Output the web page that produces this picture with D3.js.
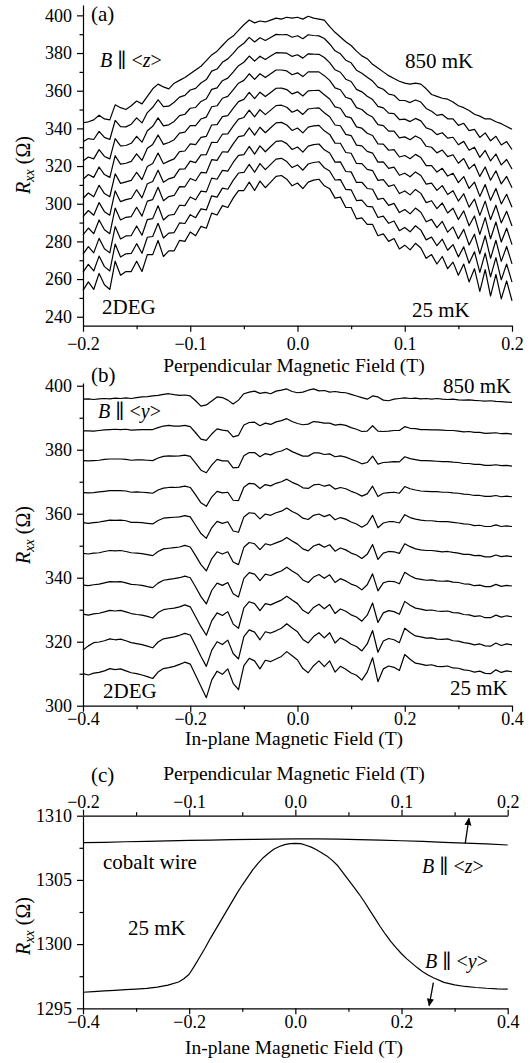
<!DOCTYPE html>
<html><head><meta charset="utf-8">
<script src="https://cdn.jsdelivr.net/npm/d3@7"></script>
<style>
body{margin:0;background:#fff}
svg{display:block}
svg text{font-family:'Liberation Serif','DejaVu Serif','Noto Serif',Times,serif !important;fill:#000}
</style></head>
<body><svg id="chart" width="532" height="1063"></svg>
<script>
// ---------- Panel (a): perpendicular field, 10 temperatures (850 mK top ... 25 mK bottom)
const fieldA = [-0.2,-0.195,-0.19,-0.185,-0.18,-0.175,-0.17,-0.165,-0.16,-0.155,-0.15,-0.145,-0.14,-0.135,-0.13,-0.125,-0.12,-0.115,-0.11,-0.105,-0.1,-0.095,-0.09,-0.085,-0.08,-0.075,-0.07,-0.065,-0.06,-0.055,-0.05,-0.045,-0.04,-0.035,-0.03,-0.025,-0.02,-0.015,-0.01,-0.005,0,0.005,0.01,0.015,0.02,0.025,0.03,0.035,0.04,0.045,0.05,0.055,0.06,0.065,0.07,0.075,0.08,0.085,0.09,0.095,0.1,0.105,0.11,0.115,0.12,0.125,0.13,0.135,0.14,0.145,0.15,0.155,0.16,0.165,0.17,0.175,0.18,0.185,0.19,0.195,0.2];
const rA0 = [343,343.5,344.5,347,345,344.5,352.5,351,350,352,354.5,353,357,361,363.5,362,361,364,365.5,367,369,371,373,376,379,381,384,387,389,392,395,397.5,396,397,396.5,397.5,398.5,398,399,398.5,399,398,399.5,398.5,398,397.5,394,391,388.5,386,384,381,378.5,377,374,372,370,368,366.5,365,364,363.5,364,363.5,361,358,357,356,355.5,354,352,351,349.5,347.5,346.5,345,345,343.5,342.5,341,339.5];
const rA1 = [332.9,334.6,334.1,338.4,335.2,334.1,344.2,340.9,340.8,342.2,345.6,342.9,348.4,351.2,355.2,351.6,351.8,353.9,356.6,357.5,360.4,361.2,364.1,365.9,370.4,371.5,375.1,376.9,379.8,383.1,385.2,388.3,385.9,388.1,386.7,388.3,389.9,389.7,389.8,388.4,389.2,387.6,389.7,389.3,389.1,387.7,384.8,381.2,379.6,376.2,374.8,370.9,369.3,367.2,365.1,361.9,360.8,358.2,357.6,354.9,354.8,353.7,355.1,354,350.6,349.1,346.9,347.4,345.1,345.1,341.6,342.7,338.8,339.5,335.2,337.6,333.4,335.8,331.2,333,328.8];
const rA2 = [322.7,324.8,323.8,328.7,325.1,323.8,334.6,330.7,330.9,332.1,335.8,332.7,338.7,341.1,345.6,341.3,341.9,343.7,346.8,347.5,350.7,351.1,354.3,355.7,360.7,361.5,365.3,366.7,369.9,373.3,375.1,378.4,375.7,378.3,376.6,378.4,380.2,380.1,379.9,378.2,379.1,377.3,379.6,379.4,379.3,377.6,374.9,371.1,369.8,366.1,364.9,360.7,359.4,357.1,355.3,351.7,350.9,348.1,347.8,344.7,344.9,343.6,345.3,344,340.3,339.3,336.7,337.7,334.8,335.3,331.3,333.1,328.4,330,324.6,328.3,322.7,326.4,320.6,323.5,318.4];
const rA3 = [313,315.5,314,319.5,315.5,314,325.5,321,321.5,322.5,326.5,323,329.5,331.5,336.5,331.5,332.5,334,337.5,338,341.5,341.5,345,346,351.5,352,356,357,360.5,364,365.5,369,366,369,367,369,371,371,370.5,368.5,369.5,367.5,370,370,370,368,365.5,361.5,360.5,356.5,355.5,351,350,347.5,346,342,341.5,338.5,338.5,335,335.5,334,336,334.5,330.5,330,327,328.5,325,326,321.5,324,318.5,321,314.5,319.5,312.5,317.5,310.5,314.5,308.5];
const rA4 = [302.8,305.7,303.7,309.8,305.4,303.7,315.9,310.8,311.6,312.4,316.7,312.8,319.8,321.4,326.9,321.2,322.6,323.8,327.7,328,331.8,331.4,335.2,335.8,341.8,342,346.2,346.8,350.6,354.2,355.4,359.1,355.8,359.2,356.9,359.1,361.3,361.4,360.6,358.3,359.4,357.2,359.9,360.1,360.2,357.9,355.6,351.4,350.7,346.4,345.6,340.8,340.1,337.4,336.2,331.8,331.6,328.4,328.7,324.8,325.6,323.9,326.2,324.5,320.2,320.2,316.8,318.8,314.7,316.2,311.2,314.4,308.1,311.5,303.9,310.2,301.8,308.1,299.9,305,298.1];
const rA5 = [293.1,296.4,293.9,300.6,295.8,293.9,306.8,301.1,302.2,302.8,307.4,303.1,310.6,311.8,317.8,311.4,313.2,314.1,318.4,318.5,322.6,321.8,325.9,326.1,332.6,332.5,336.9,337.1,341.2,344.9,345.8,349.7,346.1,349.9,347.3,349.7,352.1,352.3,351.2,348.6,349.8,347.4,350.3,350.7,350.9,348.3,346.2,341.8,341.4,336.8,336.2,331.1,330.7,327.8,326.9,322.1,322.2,318.8,319.4,315.1,316.2,314.3,316.9,315,310.4,310.9,307.1,309.6,304.9,306.9,301.4,305.3,298.2,302.5,293.8,301.4,291.6,299.2,289.8,296,288.2];
const rA6 = [283.4,287.1,284.1,291.4,286.2,284.1,297.7,291.4,292.8,293.2,298.1,293.4,301.4,302.2,308.7,301.6,303.8,304.4,309.1,309,313.4,312.2,316.6,316.4,323.4,323,327.6,327.4,331.8,335.6,336.2,340.3,336.4,340.6,337.7,340.3,342.9,343.2,341.8,338.9,340.2,337.6,340.7,341.3,341.6,338.7,336.8,332.2,332.1,327.2,326.8,321.4,321.3,318.2,317.6,312.4,312.8,309.2,310.1,305.4,306.8,304.7,307.6,305.5,300.6,301.6,297.4,300.4,295.1,297.6,291.6,296.2,288.3,293.5,283.7,292.6,281.4,290.3,279.7,287,278.3];
const rA7 = [273.3,277.2,273.9,281.6,276.1,273.9,287.9,281.3,282.9,283.1,288.2,283.3,291.6,292.1,298.9,291.4,293.9,294.3,299.2,299,303.6,302.1,306.7,306.3,313.6,313,317.7,317.3,321.9,325.7,326.1,330.4,326.3,330.7,327.6,330.4,333.1,333.4,331.9,328.8,330.1,327.4,330.6,331.4,331.7,328.6,326.9,322.1,322.2,317.1,316.9,311.3,311.4,308.1,307.7,302.3,302.9,299.1,300.2,295.3,296.9,294.6,297.7,295.5,290.4,291.7,287.3,290.6,284.9,287.7,281.4,286.4,278.1,283.8,273.4,283,271,280.6,269.4,277.3,268.1];
const rA8 = [263.7,267.8,264.3,272.2,266.6,264.3,278.6,271.7,273.4,273.6,278.8,273.7,282.2,282.6,289.6,281.8,284.4,284.7,289.8,289.5,294.2,292.6,297.3,296.7,304.2,303.5,308.3,307.7,312.4,316.3,316.6,320.9,316.7,321.3,318.1,320.9,323.7,324.1,322.4,319.2,320.6,317.8,321.1,321.9,322.3,319.1,317.4,312.6,312.8,307.6,307.4,301.7,301.9,298.6,298.3,292.7,293.4,289.6,290.8,285.7,287.4,285.1,288.3,286,280.8,282.3,277.7,281.2,275.3,278.3,271.8,277.1,268.4,274.5,263.6,273.8,261.2,271.4,259.6,268,258.4];
const rA9 = [254,258.5,254.5,263,257,254.5,269.5,262,264,264,269.5,264,273,273,280.5,272,275,275,280.5,280,285,283,288,287,295,294,299,298,303,307,307,311.5,307,312,308.5,311.5,314.5,315,313,309.5,311,308,311.5,312.5,313,309.5,308,303,303.5,298,298,292,292.5,289,289,283,284,280,281.5,276,278,275.5,279,276.5,271,273,268,272,265.5,269,262,268,258.5,265.5,253.5,265,251,262.5,249.5,259,248.5];

// ---------- Panel (b): in-plane field, 10 temperatures (850 mK top ... 25 mK bottom)
const fieldB = [-0.4,-0.39,-0.38,-0.37,-0.36,-0.35,-0.34,-0.33,-0.32,-0.31,-0.3,-0.29,-0.28,-0.27,-0.26,-0.25,-0.24,-0.23,-0.22,-0.21,-0.2,-0.19,-0.18,-0.17,-0.16,-0.15,-0.14,-0.13,-0.12,-0.11,-0.1,-0.09,-0.08,-0.07,-0.06,-0.05,-0.04,-0.03,-0.02,-0.01,0,0.01,0.02,0.03,0.04,0.05,0.06,0.07,0.08,0.09,0.1,0.11,0.12,0.13,0.14,0.15,0.16,0.17,0.18,0.19,0.2,0.21,0.22,0.23,0.24,0.25,0.26,0.27,0.28,0.29,0.3,0.31,0.32,0.33,0.34,0.35,0.36,0.37,0.38,0.39,0.4];
const rB0 = [395.8,395.9,395.7,395.9,396.0,395.9,396.1,396.0,396.2,396.0,396.3,396.5,396.6,396.8,397.0,397.3,397.5,397.2,397.0,397.1,396.8,395.3,393.6,394.0,395.2,396.5,396.3,395.5,394.3,395.5,397.5,398.0,398.3,397.6,397.9,397.5,398.3,398.6,399.0,398.2,397.8,398.0,398.6,399.0,398.4,398.5,398.0,398.2,397.9,397.8,397.3,396.8,396.3,395.8,396.8,396.5,395.5,395.3,395.8,396.0,396.2,396.0,396.1,395.9,396.0,395.8,396.0,395.8,395.7,395.8,395.6,395.5,395.6,395.4,395.3,395.2,395.3,395.1,395.0,394.9,394.8];
const rB1 = [385.9,385.9,385.8,386.0,386.2,386.3,386.4,386.3,386.4,386.1,386.2,386.3,386.3,386.3,386.9,387.4,387.6,387.4,387.4,387.6,387.2,385.3,383.3,382.9,384.9,386.5,386.1,385.9,384.0,384.5,387.7,388.5,388.6,387.5,388.3,387.9,388.7,389.1,389.7,388.8,388.2,387.8,388.0,388.8,388.6,388.3,388.3,387.7,387.9,387.6,386.9,386.4,385.7,385.8,387.5,385.8,385.7,385.8,386.0,386.0,387.2,386.7,386.6,386.3,386.3,386.2,386.2,386.1,386.0,386.0,385.8,385.6,385.7,385.4,385.4,385.1,385.2,385.3,385.0,385.1,384.9];
const rB2 = [376.6,376.5,376.6,376.7,377.0,377.1,377.1,377.1,377.0,376.7,376.8,376.8,376.7,376.6,377.4,377.9,378.1,378.0,378.1,378.3,377.9,375.8,373.6,372.8,375.2,377.0,376.5,376.5,374.3,374.5,378.1,379.1,379.1,377.8,378.8,378.4,379.2,379.6,380.4,379.4,378.7,378.0,378.0,379.0,379.0,378.5,378.7,377.8,378.1,377.7,377.0,376.4,375.6,376.0,378.0,375.5,376.0,376.1,376.3,376.2,377.8,377.2,376.9,376.6,376.6,376.5,376.4,376.3,376.3,376.1,376.0,375.7,375.7,375.4,375.4,375.1,375.1,375.3,375.0,375.1,374.9];
const rB3 = [366.6,366.5,366.6,366.8,367.0,367.2,367.2,367.2,367.1,366.7,366.8,366.7,366.6,366.4,367.4,368.0,368.2,368.2,368.3,368.6,368.2,365.9,363.4,362.3,365.2,367.0,366.5,366.7,364.2,364.1,368.3,369.5,369.3,367.9,369.1,368.7,369.5,370.0,370.8,369.8,369.1,368.1,367.9,369.0,369.2,368.6,369.0,367.7,368.2,367.8,367.0,366.4,365.5,366.2,368.6,365.4,366.4,366.6,366.7,366.4,368.5,367.8,367.4,367.1,367.0,366.9,366.9,366.7,366.7,366.5,366.4,366.1,366.0,365.7,365.7,365.4,365.4,365.7,365.3,365.5,365.3];
const rB4 = [357.2,357.0,357.2,357.4,357.7,358.0,357.9,358.0,357.8,357.3,357.3,357.2,357.0,356.8,357.9,358.6,358.8,358.9,359.0,359.4,359.0,356.4,353.8,352.3,355.6,357.6,357.0,357.5,354.6,354.2,359.0,360.3,360.1,358.4,359.9,359.5,360.3,360.8,361.8,360.7,359.9,358.6,358.2,359.5,359.9,359.1,359.7,358.1,358.8,358.3,357.4,356.8,355.8,356.8,359.5,355.6,357.1,357.5,357.5,357.1,359.7,358.8,358.3,358.0,357.8,357.8,357.6,357.5,357.5,357.3,357.1,356.8,356.7,356.3,356.4,356.0,356.0,356.5,356.0,356.2,356.0];
const rB5 = [347.6,347.4,347.7,347.8,348.2,348.5,348.4,348.5,348.2,347.8,347.7,347.5,347.2,346.9,348.2,349.0,349.2,349.4,349.6,350.1,349.6,346.9,344.1,342.1,345.9,348.1,347.4,348.1,344.9,344.1,349.5,351.0,350.6,348.8,350.6,350.2,350.9,351.5,352.6,351.5,350.5,349.0,348.4,349.9,350.5,349.5,350.3,348.3,349.3,348.7,347.7,347.1,346.0,347.3,350.4,345.7,347.7,348.2,348.1,347.6,350.6,349.7,349.0,348.7,348.5,348.5,348.3,348.1,348.2,347.9,347.7,347.3,347.3,346.9,347.0,346.5,346.5,347.1,346.6,346.8,346.6];
const rB6 = [337.7,337.5,337.8,338.0,338.4,338.8,338.7,338.8,338.4,337.9,337.8,337.6,337.2,336.9,338.3,339.2,339.5,339.7,340.0,340.5,340.0,337.1,334.1,331.8,336.0,338.3,337.6,338.5,335.0,334.0,339.8,341.6,341.1,339.1,341.1,340.7,341.5,342.1,343.3,342.1,341.1,339.3,338.5,340.2,341.0,339.8,340.9,338.5,339.7,339.0,338.0,337.4,336.2,337.8,341.2,335.9,338.4,338.9,338.8,338.1,341.7,340.6,339.8,339.5,339.2,339.3,339.0,338.9,339.0,338.6,338.5,338.1,338.0,337.5,337.7,337.2,337.2,337.9,337.3,337.6,337.4];
const rB7 = [328.6,328.3,328.7,328.9,329.3,329.8,329.6,329.8,329.3,328.8,328.5,328.3,327.9,327.4,329.1,330.0,330.3,330.5,330.9,331.5,330.9,327.8,324.7,322.0,326.5,329.0,328.2,329.4,325.5,324.2,330.6,332.5,331.9,329.7,331.9,331.5,332.3,333.0,334.2,333.0,331.9,329.8,328.8,330.7,331.7,330.3,331.6,328.8,330.2,329.5,328.4,327.7,326.4,328.3,332.1,326.0,329.0,329.7,329.4,328.6,332.6,331.4,330.5,330.2,329.8,329.9,329.6,329.5,329.6,329.1,329.0,328.5,328.4,327.9,328.1,327.5,327.5,328.3,327.7,328.1,327.8];
const rB8 = [317.4,318.7,319.7,319.9,320.3,320.9,320.6,320.8,320.3,319.7,319.4,319.1,318.6,318.1,319.9,320.9,321.2,321.5,322.0,322.6,322.1,318.8,315.4,312.3,317.3,320.0,319.1,320.5,316.3,314.6,321.6,323.7,323.0,320.6,323.1,322.7,323.4,324.2,325.6,324.3,323.1,320.7,319.6,321.6,322.8,321.2,322.8,319.6,321.2,320.4,319.2,318.5,317.1,319.3,323.5,316.7,320.2,321.0,320.6,319.7,324.2,322.9,321.8,321.5,321.1,321.2,320.8,320.7,320.9,320.3,320.2,319.7,319.5,319.0,319.3,318.7,318.6,319.6,318.8,319.3,319.0];
const rB9 = [310.0,309.6,310.2,310.4,310.9,311.6,311.3,311.5,310.9,310.3,310.0,309.6,309.1,308.5,310.5,311.6,311.9,312.3,312.9,313.6,313.0,309.5,306.0,302.5,308.0,310.8,309.8,311.5,307.0,305.0,312.5,314.8,314.0,311.5,314.2,313.8,314.6,315.4,316.9,315.6,314.3,311.6,310.3,312.5,314.0,312.2,314.0,310.5,312.3,311.4,310.2,309.5,308.0,310.5,315.0,307.5,311.5,312.4,312.0,311.0,316.0,314.5,313.3,313.0,312.6,312.8,312.3,312.2,312.4,311.8,311.7,311.2,311.0,310.5,310.8,310.1,310.0,311.2,310.4,310.9,310.6];

// ---------- Panel (c): cobalt wire at 25 mK
const fieldCy = [-0.4,-0.38,-0.36,-0.34,-0.32,-0.3,-0.28,-0.26,-0.24,-0.22,-0.21,-0.2,-0.19,-0.18,-0.17,-0.16,-0.15,-0.14,-0.13,-0.12,-0.11,-0.1,-0.09,-0.08,-0.07,-0.06,-0.05,-0.04,-0.03,-0.02,-0.01,0,0.01,0.02,0.03,0.04,0.05,0.06,0.07,0.08,0.09,0.1,0.11,0.12,0.13,0.14,0.15,0.16,0.17,0.18,0.19,0.2,0.21,0.22,0.23,0.24,0.25,0.26,0.28,0.3,0.32,0.34,0.36,0.38,0.4];
const rCy = [1296.25,1296.3,1296.35,1296.4,1296.45,1296.5,1296.55,1296.65,1296.8,1297.05,1297.3,1297.65,1298.3,1299.0,1299.7,1300.45,1301.15,1301.85,1302.55,1303.25,1303.95,1304.6,1305.2,1305.8,1306.3,1306.75,1307.1,1307.4,1307.6,1307.75,1307.82,1307.85,1307.82,1307.7,1307.55,1307.35,1307.1,1306.85,1306.5,1306.1,1305.55,1305.0,1304.45,1303.9,1303.3,1302.65,1302.0,1301.35,1300.75,1300.2,1299.7,1299.25,1298.85,1298.5,1298.15,1297.85,1297.6,1297.38,1297.02,1296.82,1296.7,1296.62,1296.56,1296.52,1296.5];
const fieldCz = [-0.2,-0.18,-0.16,-0.14,-0.12,-0.1,-0.08,-0.06,-0.04,-0.02,0,0.02,0.04,0.06,0.08,0.1,0.12,0.14,0.16,0.18,0.2];
const rCz = [1307.9,1307.93,1307.97,1308.0,1308.04,1308.08,1308.1,1308.13,1308.16,1308.18,1308.2,1308.19,1308.17,1308.14,1308.1,1308.05,1308.0,1307.93,1307.86,1307.8,1307.72];
const arrowZ = [[0.160,1307.85],[0.1635,1309.8]];
const arrowY = [[0.260,1297.0],[0.252,1295.2]];

// ---------- ticks
const aYticks=[240,260,280,300,320,340,360,380,400], aYminor=[250,270,290,310,330,350,370,390];
const aXticks=[-0.2,-0.1,0,0.1,0.2], aXminor=[-0.15,-0.05,0.05,0.15];
const bYticks=[300,320,340,360,380,400], bYminor=[310,330,350,370,390];
const bXticks=[-0.4,-0.2,0,0.2,0.4], bXminor=[-0.3,-0.1,0.1,0.3];
const cYticks=[1295,1300,1305,1310], cYminor=[1297.5,1302.5,1307.5];
const cXticks=[-0.4,-0.2,0,0.2,0.4], cXminor=[-0.3,-0.1,0.1,0.3];
const cTticks=[-0.2,-0.1,0,0.1,0.2], cTminor=[-0.15,-0.05,0.05,0.15];

const seriesA=[rA0,rA1,rA2,rA3,rA4,rA5,rA6,rA7,rA8,rA9];
const seriesB=[rB0,rB1,rB2,rB3,rB4,rB5,rB6,rB7,rB8,rB9];

// ---------- drawing
const FONT="'Liberation Serif','DejaVu Serif','Noto Serif',Times,serif";
const svg=d3.select("#chart");
svg.append("defs").append("marker").attr("id","ah").attr("viewBox","0 0 10 10")
  .attr("refX",9).attr("refY",5).attr("markerWidth",6).attr("markerHeight",7).attr("orient","auto")
  .append("path").attr("d","M0,0.5 L10,5 L0,9.5 z").attr("fill","#000");

const fmtInt=d3.format("d"), fmtX=d3.format(".1f");

function styleAxis(g){
  g.attr("font-family",FONT).attr("font-size",18);
  g.selectAll("line,path").attr("stroke","#000").attr("stroke-width",1.2);
  g.selectAll("text").attr("fill","#000").style("font-family",FONT);
}
function addAxis(gen,tf,major,minor,fmt,pad,minorSize){
  const g=svg.append("g").attr("transform",tf)
    .call(gen.tickValues(major).tickFormat(fmt).tickSize(6).tickSizeOuter(0).tickPadding(pad));
  styleAxis(g);
  const m=svg.append("g").attr("transform",tf)
    .call(gen.tickValues(minor).tickFormat("").tickSize(minorSize||3.5).tickSizeOuter(0));
  m.select(".domain").remove(); styleAxis(m);
}
function drawLines(data,field,x,y){
  const line=d3.line().x(d=>x(d[0])).y(d=>y(d[1]));
  svg.append("g").selectAll("path").data(data).join("path")
    .attr("d",v=>line(d3.zip(field,v)))
    .attr("fill","none").attr("stroke","#000").attr("stroke-width",1.2).attr("stroke-linejoin","round");
}
function label(x,y,parts,size,anchor){
  const t=svg.append("text").attr("x",x).attr("y",y).attr("font-size",size||21).attr("text-anchor",anchor||"start").style("font-family",FONT);
  parts.forEach(p=>{const s=t.append("tspan").text(p[0]); if(p[1]) s.attr("font-style","italic");});
  return t;
}
function ylabel(x,y){
  const t=svg.append("text").attr("transform",`translate(${x},${y}) rotate(-90)`)
    .attr("text-anchor","middle").attr("font-size",20).style("font-family",FONT);
  t.append("tspan").attr("font-style","italic").text("R");
  t.append("tspan").attr("font-style","italic").attr("font-size",14).attr("dy",4).text("xx");
  t.append("tspan").attr("dy",-4).text(" (Ω)");
}
function title(x,y,s){svg.append("text").attr("x",x).attr("y",y).attr("text-anchor","middle").attr("font-size",19.5).style("font-family",FONT).text(s);}

// Panel (a)
const xA=d3.scaleLinear().domain([-0.2,0.2]).range([83,512]);
const yA=d3.scaleLinear().domain([235.25,405.5]).range([325.7,5]);
drawLines(seriesA,fieldA,xA,yA);
addAxis(d3.axisLeft(yA),"translate(83,0)",aYticks,aYminor,fmtInt,5);
addAxis(d3.axisBottom(xA),"translate(0,325.7)",aXticks,aXminor,fmtX,6);
title(294,371.5,"Perpendicular Magnetic Field (T)");
ylabel(30,165);
label(91,21,[["(a)"]]);
label(100,67,[["B",1],[" ∥ <"],["z",1],[">"]],20);
label(405,68,[["850 mK"]]);
label(102,313.5,[["2DEG"]]);
label(412,316.5,[["25 mK"]]);

// Panel (b)
const xB=d3.scaleLinear().domain([-0.4,0.4]).range([83,512]);
const yB=d3.scaleLinear().domain([300,400.85]).range([705.7,383]);
drawLines(seriesB,fieldB,xB,yB);
addAxis(d3.axisLeft(yB),"translate(83,0)",bYticks,bYminor,fmtInt,5);
addAxis(d3.axisBottom(xB),"translate(0,705.7)",bXticks,bXminor,fmtX,0.5);
title(294,745,"In-plane Magnetic Field (T)");
ylabel(30,535);
label(91,382,[["(b)"]]);
label(443,393,[["850 mK"]]);
label(98,418,[["B",1],[" ∥ <"],["y",1],[">"]],20);
label(103,698,[["2DEG"]]);
label(450,695,[["25 mK"]]);

// Panel (c)
const xCb=d3.scaleLinear().domain([-0.4,0.4]).range([83,507.7]);
const xCt=d3.scaleLinear().domain([-0.2,0.2]).range([83,507.7]);
const yC=d3.scaleLinear().domain([1295,1310]).range([1008.3,815.7]);
drawLines([rCy],fieldCy,xCb,yC);
drawLines([rCz],fieldCz,xCt,yC);
addAxis(d3.axisLeft(yC),"translate(83,0)",cYticks,cYminor,fmtInt,5);
addAxis(d3.axisBottom(xCb),"translate(0,1008.3)",cXticks,cXminor,fmtX,1);
addAxis(d3.axisTop(xCt),"translate(0,815.7)",cTticks,cTminor,fmtX,2);
title(294,780,"Perpendicular Magnetic Field (T)");
title(294,1054,"In-plane Magnetic Field (T)");
ylabel(30,926);
label(91,782,[["(c)"]]);
label(103,869,[["cobalt wire"]]);
label(422,873,[["B",1],[" ∥ <"],["z",1],[">"]],20);
label(128,935,[["25 mK"]]);
label(425,968,[["B",1],[" ∥ <"],["y",1],[">"]],20);
[[arrowZ,xCt],[arrowY,xCb]].forEach(([a,x])=>{
  svg.append("line").attr("x1",x(a[0][0])).attr("y1",yC(a[0][1])).attr("x2",x(a[1][0])).attr("y2",yC(a[1][1]))
    .attr("stroke","#000").attr("stroke-width",1.3).attr("marker-end","url(#ah)");
});
</script></body></html>
